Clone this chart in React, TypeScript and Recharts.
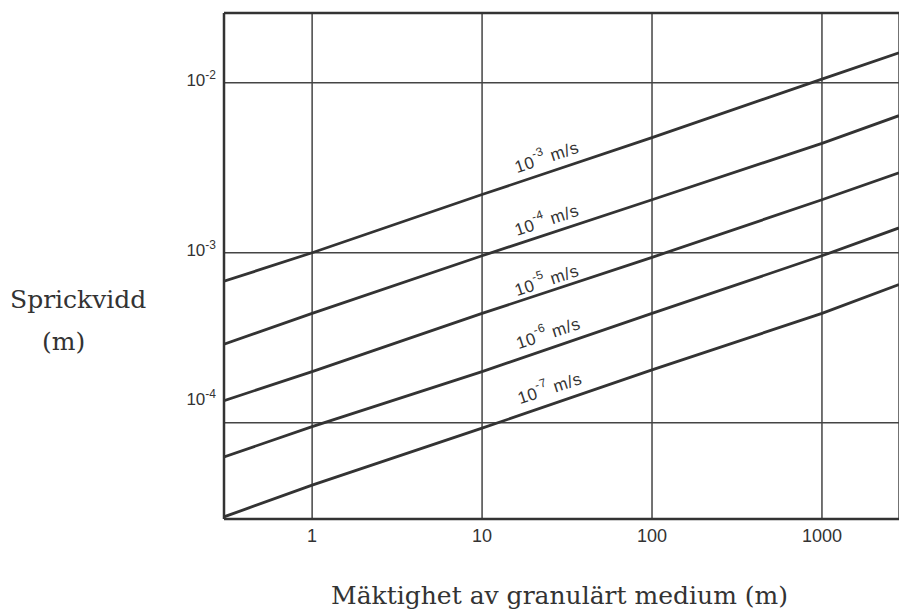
import React from 'react';
import {
  LineChart,
  Line,
  XAxis,
  YAxis,
  CartesianGrid,
  ReferenceLine,
  ReferenceDot,
} from 'recharts';

const H_VALUES = [0.303, 1, 10, 100, 1000, 2840];

// Sprickvidd (m) per hydraulic conductivity, read at H_VALUES
const W_K3 = [6.8e-4, 1.0e-3, 2.2e-3, 4.75e-3, 1.05e-2, 1.5e-2];
const W_K4 = [2.9e-4, 4.4e-4, 9.6e-4, 2.05e-3, 4.4e-3, 6.4e-3];
const W_K5 = [1.35e-4, 2.0e-4, 4.4e-4, 9.4e-4, 2.05e-3, 2.95e-3];
const W_K6 = [6.3e-5, 9.5e-5, 2.0e-4, 4.4e-4, 9.6e-4, 1.4e-3];
const W_K7 = [2.8e-5, 4.3e-5, 9.3e-5, 2.05e-4, 4.4e-4, 6.5e-4];

const SERIES_EXP = ['-3', '-4', '-5', '-6', '-7'];
const SERIES_VALUES = [W_K3, W_K4, W_K5, W_K6, W_K7];

// where each "10^x m/s" label sits on the chart
const LABEL_H = [24, 24, 24, 24.5, 25];
const LABEL_W = [3.66e-3, 1.56e-3, 6.9e-4, 3.37e-4, 1.6e-4];

const X_TICKS = [1, 10, 100, 1000];
const X_TICK_LABELS = ['1', '10', '100', '1000'];
const Y_TICKS = [1e-4, 1e-3, 1e-2];
const Y_TICK_EXP = ['-4', '-3', '-2'];

const X_DOMAIN = [0.303, 2840];
const Y_DOMAIN = [2.72e-5, 0.0257];

const INK = '#333';
const SANS = '"Liberation Sans", Arial, sans-serif';
const SERIF = '"DejaVu Serif", serif';

const seriesData = SERIES_VALUES.map((vals) =>
  H_VALUES.map((h, i) => ({ h, w: vals[i] }))
);

const XTick = (props: any) => {
  const { x, y, payload } = props;
  const idx = X_TICKS.indexOf(payload.value);
  return (
    <text x={x} y={y + 15} textAnchor="middle" fontFamily={SANS} fontSize={18} fill={INK}>
      {X_TICK_LABELS[idx]}
    </text>
  );
};

const YTick = (props: any) => {
  const { x, y, payload } = props;
  const idx = Y_TICKS.findIndex((t) => Math.abs(t - payload.value) / t < 1e-6);
  // the 10^-4 label is printed higher than its grid line in the original
  const shift = payload.value < 5e-4 ? -21 : 0;
  return (
    <text x={x} y={y + 3 + shift} textAnchor="end" fontFamily={SANS} fontSize={17} fill={INK}>
      <tspan>10</tspan>
      <tspan dy={-7} fontSize={12}>{Y_TICK_EXP[idx]}</tspan>
    </text>
  );
};

const makeLabel = (exp: string) => (props: any) => {
  const { cx, cy } = props;
  return (
    <text
      x={cx}
      y={cy}
      transform={`rotate(-18.4 ${cx} ${cy})`}
      textAnchor="middle"
      dominantBaseline="central"
      fontFamily={SANS}
      fontSize={17}
      letterSpacing={0.6}
      fill={INK}
    >
      <tspan>10</tspan>
      <tspan dy={-7} fontSize={12}>{exp}</tspan>
      <tspan dy={7}>{'  m/s'}</tspan>
    </text>
  );
};

export default function App() {
  return (
    <div style={{ position: 'absolute', left: 0, top: 0, width: 899, height: 616, background: '#fff', overflow: 'hidden' }}>
      <LineChart width={899} height={616} margin={{ top: 13, right: 0, left: 164, bottom: 67 }}>
        <CartesianGrid stroke="#444" strokeWidth={1.5} />
        <XAxis
          dataKey="h"
          type="number"
          scale="log"
          domain={X_DOMAIN}
          ticks={X_TICKS}
          allowDataOverflow
          height={30}
          tickLine={false}
          axisLine={{ stroke: INK, strokeWidth: 2.5 }}
          tick={<XTick />}
        />
        <YAxis
          type="number"
          scale="log"
          domain={Y_DOMAIN}
          ticks={Y_TICKS}
          allowDataOverflow
          width={60}
          tickLine={false}
          axisLine={{ stroke: INK, strokeWidth: 2.5 }}
          tick={<YTick />}
        />
        <ReferenceLine y={Y_DOMAIN[1]} stroke={INK} strokeWidth={2.5} />
        {seriesData.map((d, i) => (
          <Line
            key={SERIES_EXP[i]}
            data={d}
            dataKey="w"
            type="linear"
            stroke={INK}
            strokeWidth={2.8}
            dot={false}
            isAnimationActive={false}
          />
        ))}
        {SERIES_EXP.map((exp, i) => (
          <ReferenceDot
            key={'lbl' + exp}
            x={LABEL_H[i]}
            y={LABEL_W[i]}
            r={0}
            shape={makeLabel(exp)}
          />
        ))}
      </LineChart>
      <svg width={899} height={616} style={{ position: 'absolute', left: 0, top: 0, pointerEvents: 'none' }}>
        <text x={10} y={308} fontFamily={SERIF} fontSize={25} fill={INK}>Sprickvidd</text>
        <text x={42} y={350} fontFamily={SERIF} fontSize={25} fill={INK}>(m)</text>
        <text x={788} y={604} textAnchor="end" fontFamily={SERIF} fontSize={25} fill={INK}>
          Mäktighet av granulärt medium (m)
        </text>
      </svg>
    </div>
  );
}
